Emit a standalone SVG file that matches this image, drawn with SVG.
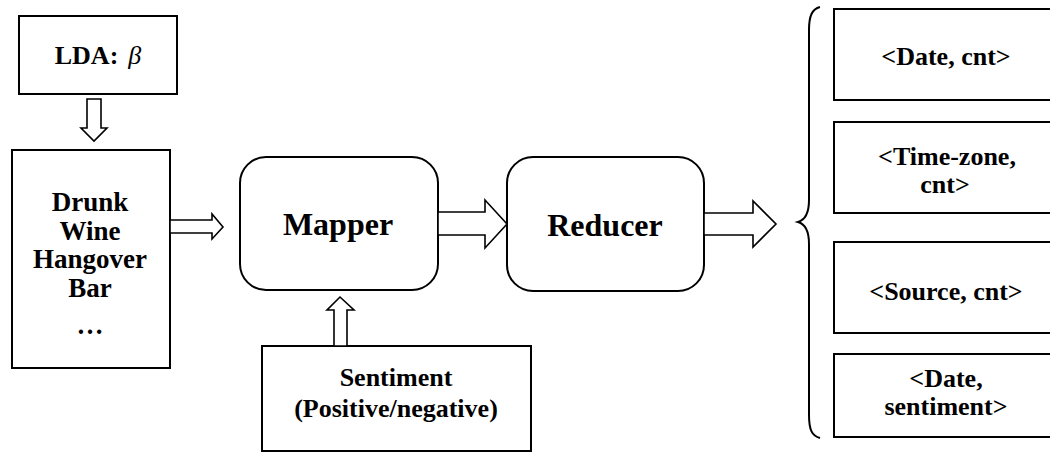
<svg xmlns="http://www.w3.org/2000/svg" width="1050" height="452" viewBox="0 0 1050 452">
<style>
.box{fill:#fff;stroke:#000;stroke-width:2}
.arr{fill:#fff;stroke:#000;stroke-width:1.6;stroke-linejoin:miter}
.t{font-family:"Liberation Serif","Times New Roman",serif;font-weight:bold;fill:#000;text-anchor:middle}
</style>
<rect width="1050" height="452" fill="#fff"/>
<g id="lda">
<rect class="box" x="19" y="16" width="158" height="78"/>
<text class="t" x="98" y="64" font-size="26">LDA:<tspan font-weight="normal" font-style="italic" dx="10">β</tspan></text>
</g>
<g id="words">
<rect class="box" x="12" y="150" width="158" height="218"/>
<text class="t" font-size="27" x="90" y="211">Drunk</text>
<text class="t" font-size="27" x="90" y="240">Wine</text>
<text class="t" font-size="27" x="90" y="268">Hangover</text>
<text class="t" font-size="27" x="90" y="297">Bar</text>
<text class="t" font-size="27" x="90" y="334">…</text>
</g>
<g id="mapper">
<rect class="box" x="240" y="157" width="198" height="133" rx="26" ry="26"/>
<text class="t" font-size="32" x="338" y="235">Mapper</text>
</g>
<g id="reducer">
<rect class="box" x="507" y="157" width="197" height="134" rx="26" ry="26"/>
<text class="t" font-size="32" x="605" y="236">Reducer</text>
</g>
<g id="sentiment">
<rect class="box" x="262" y="346" width="269" height="105"/>
<text class="t" font-size="26" x="396" y="386">Sentiment</text>
<text class="t" font-size="26" x="396" y="417">(Positive/negative)</text>
</g>
<g id="out1">
<rect class="box" x="834" y="9" width="230" height="91"/>
<text class="t" font-size="26" x="946" y="65">&lt;Date, cnt&gt;</text>
</g>
<g id="out2">
<rect class="box" x="834" y="122" width="230" height="91"/>
<text class="t" font-size="26" x="947" y="165">&lt;Time-zone,</text>
<text class="t" font-size="26" x="945" y="193">cnt&gt;</text>
</g>
<g id="out3">
<rect class="box" x="834" y="242" width="230" height="91"/>
<text class="t" font-size="26" x="946" y="300">&lt;Source, cnt&gt;</text>
</g>
<g id="out4">
<rect class="box" x="834" y="354" width="230" height="83"/>
<text class="t" font-size="26" x="946" y="387">&lt;Date,</text>
<text class="t" font-size="26" x="946" y="415">sentiment&gt;</text>
</g>
<g id="connectors">
<polygon class="arr" points="87,99 101,99 101,128 107,128 94,141 81,128 87,128"/>
<polygon class="arr" points="170,220 212,220 212,214 223,227 212,239 212,233 170,233"/>
<polygon class="arr" points="438,212 485,212 485,200 507,224 485,248 485,235 438,235"/>
<polygon class="arr" points="704,213 753,213 753,201 776,224 753,247 753,235 704,235"/>
<polygon class="arr" points="334,346 334,310 327,310 340,297 354,310 347,310 347,346"/>
<path d="M820,7 C812,9 809,16 809,30 L809,200 C809,214 805,220 798,222 C805,224 809,230 809,244 L809,415 C809,430 812,436 820,438" fill="none" stroke="#000" stroke-width="2"/>
</g>
</svg>
